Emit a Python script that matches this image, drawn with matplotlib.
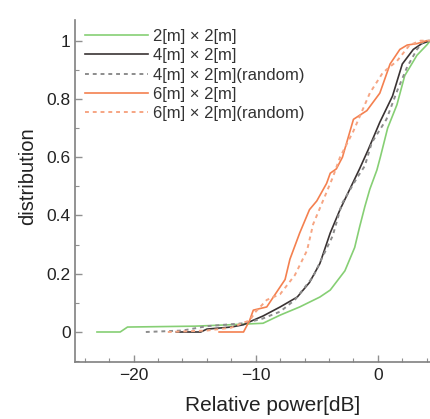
import matplotlib.pyplot as plt
import numpy as np
from matplotlib.ticker import MultipleLocator, FuncFormatter

plt.rcParams['font.family'] = ['Liberation Sans', 'DejaVu Sans']

# 2[m] x 2[m]
x_22 = [-23, -21.1, -20.5, -15, -12, -9.4, -8, -6.4, -4.75, -3.9, -2.7, -1.9,
        -1.5, -1.07, -0.66, -0.08, 0.2, 0.8, 1.56, 2.2, 3.2, 4.0, 4.3]
y_22 = [0, 0, 0.017, 0.02, 0.025, 0.03, 0.058, 0.086, 0.12, 0.144, 0.21, 0.29,
        0.36, 0.43, 0.49, 0.556, 0.6, 0.7, 0.78, 0.88, 0.95, 0.985, 1.0]

# 4[m] x 2[m]
x_42 = [-16.5, -14.5, -14, -12, -11, -10.5, -9.4, -8, -6.6, -5.6, -4.75, -3.9,
        -3.1, -2.3, -1.5, -0.8, 0.16, 1.2, 2.0, 2.9, 3.6, 4.3]
y_42 = [0, 0, 0.01, 0.017, 0.025, 0.035, 0.055, 0.086, 0.12, 0.17, 0.235, 0.34,
        0.42, 0.49, 0.56, 0.625, 0.72, 0.81, 0.92, 0.97, 0.99, 1.0]

# 4[m] x 2[m] (random)
x_42r = [-19, -16, -14, -11, -9.5, -8, -6.8, -5.3, -4.5, -3.7, -2.95, -1.7,
         -1.07, -0.5, 0.7, 1.6, 2.4, 3.2, 3.8, 4.3]
y_42r = [0, 0.005, 0.02, 0.03, 0.045, 0.07, 0.11, 0.19, 0.26, 0.33, 0.44, 0.53,
         0.57, 0.65, 0.73, 0.83, 0.91, 0.97, 1.0, 1.0]

# 6[m] x 2[m]
x_62 = [-13, -11, -10.5, -10.2, -9.1, -8, -7.6, -7.2, -6.4, -5.6, -5.0, -4.2,
        -3.9, -3.4, -2.9, -2.0, -0.9, 0.16, 1.0, 1.8, 2.4, 3.2, 4.0]
y_62 = [0, 0, 0.04, 0.075, 0.086, 0.155, 0.18, 0.25, 0.34, 0.42, 0.45, 0.51,
        0.545, 0.56, 0.60, 0.73, 0.76, 0.82, 0.92, 0.97, 0.985, 0.99, 1.0]

# 6[m] x 2[m] (random)
x_62r = [-17.2, -14, -12, -10.5, -10, -9.1, -8, -6.8, -5.8, -5.3, -4.5, -3.7,
         -3.1, -2.0, -0.66, 0.4, 1.56, 2.6, 3.5, 4.3]
y_62r = [0, 0.005, 0.015, 0.04, 0.07, 0.11, 0.13, 0.195, 0.28, 0.37, 0.45, 0.53,
         0.60, 0.69, 0.82, 0.89, 0.93, 0.985, 1.0, 1.0]

W, H = 431, 419
fig = plt.figure(figsize=(W / 100, H / 100), dpi=100)
ax = fig.add_axes([75 / W, (H - 362) / H, (W - 75) / W, (362 - 20) / H])

ax.plot(x_22, y_22, color='#86cf74', lw=1.2, label='2[m] × 2[m]')
ax.plot(x_42, y_42, color='#3a3333', lw=1.2, label='4[m] × 2[m]')
ax.plot(x_42r, y_42r, color='#8c8c8c', lw=1.4, ls=(0, (2, 2)),
        label='4[m] × 2[m](random)')
ax.plot(x_62, y_62, color='#f4804f', lw=1.2, label='6[m] × 2[m]')
ax.plot(x_62r, y_62r, color='#f6a583', lw=1.4, ls=(0, (2, 2)),
        label='6[m] × 2[m](random)')

ax.set_xlim(-24.8, 4.35)
ax.set_ylim(-0.103, 1.071)

for s in ['top', 'right']:
    ax.spines[s].set_visible(False)
for s in ['left', 'bottom']:
    ax.spines[s].set_color('#808080')
    ax.spines[s].set_linewidth(1.2)

ax.xaxis.set_major_locator(MultipleLocator(10))
ax.xaxis.set_minor_locator(MultipleLocator(2))
ax.yaxis.set_major_locator(MultipleLocator(0.2))
ax.yaxis.set_minor_locator(MultipleLocator(0.1))
ax.yaxis.set_major_formatter(FuncFormatter(lambda v, _: f'{v:g}'))
ax.tick_params(which='both', direction='in', color='#909090', labelcolor='#222222',
               labelsize=12.5)
ax.tick_params(which='major', length=5, width=1)
ax.tick_params(which='minor', length=3, width=0.8)
ax.tick_params(axis='x', pad=4)
ax.tick_params(axis='y', pad=3)

ax.set_xlabel('Relative power[dB]', fontsize=15, color='#222222')
ax.set_ylabel('distribution', fontsize=14.5, color='#222222')
ax.xaxis.set_label_coords((273 - 75) / (W - 75), -(405 - 362) / 342, transform=ax.transAxes)
ax.yaxis.set_label_coords(-(75 - 28) / (W - 75), (362 - 176) / 342, transform=ax.transAxes)
ax.xaxis.label.set_va('center')
ax.yaxis.label.set_va('center')

ax.legend(loc='upper left', bbox_to_anchor=(85 / W, 1 - 29 / H),
          bbox_transform=fig.transFigure, frameon=False, fontsize=12,
          handlelength=3.8, handletextpad=0.3, labelspacing=0.26,
          borderpad=0, borderaxespad=0, labelcolor='#333333')

plt.savefig('out.png', dpi=100)
